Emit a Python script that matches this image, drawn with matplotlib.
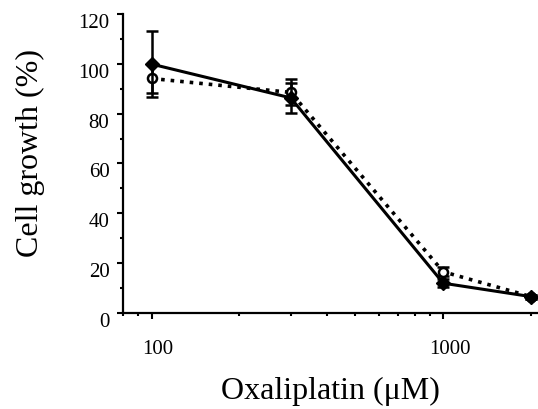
import matplotlib
matplotlib.use("Agg")
import matplotlib.pyplot as plt
import matplotlib.transforms as mtransforms
from matplotlib.ticker import LogLocator, FixedLocator, NullFormatter, FixedFormatter

conc = [100, 300, 1000, 2000]
solid_vals = [100.0, 86.4, 11.8, 6.4]
solid_err = [13.4, 6.1, 1.5, 0.8]
dotted_vals = [94.2, 88.6, 16.4, 6.4]
dotted_err = [5.8, 5.2, 1.8, 0.8]

yticks = [0, 20, 40, 60, 80, 100, 120]
xtick_vals = [100, 1000]
xtick_labels = ["100", "1000"]

plt.rcParams['font.family'] = ['Liberation Serif', 'DejaVu Serif']

fig = plt.figure(figsize=(5.38, 4.09), dpi=100)
ax = fig.add_axes([0.2292, 0.2359, 0.7708, 0.7289])

ax.errorbar(conc, dotted_vals, yerr=dotted_err, color='black', lw=2.6, ls=':',
            marker='o', ms=6.5, mfc='white', mec='black', mew=1.8,
            capsize=4.5, elinewidth=1.8, capthick=1.8, clip_on=False, zorder=3)
ax.errorbar(conc, solid_vals, yerr=solid_err, color='black', lw=2.2, ls='-',
            marker='D', ms=7, mfc='black', mec='black',
            capsize=4.5, elinewidth=1.8, capthick=1.8, clip_on=False, zorder=4)

ax.set_xscale('log')
ax.set_xlim(80, 2113)
ax.set_ylim(0, 120)

ax.xaxis.set_major_locator(FixedLocator(xtick_vals))
ax.xaxis.set_major_formatter(FixedFormatter(xtick_labels))
ax.xaxis.set_minor_locator(LogLocator(base=10, subs=range(2, 10)))
ax.xaxis.set_minor_formatter(NullFormatter())

ax.set_yticks(yticks)
ax.set_yticks(range(10, 120, 20), minor=True)

for s in ['top', 'right']:
    ax.spines[s].set_visible(False)
for s in ['left', 'bottom']:
    ax.spines[s].set_linewidth(1.6)

ax.tick_params(axis='both', which='major', direction='out', length=4, width=1.5, labelsize=15)
ax.tick_params(axis='both', which='minor', direction='out', length=2.5, width=1.5)
ax.tick_params(axis='x', which='major', pad=16)
ax.tick_params(axis='y', which='major', pad=6)

dx = mtransforms.ScaledTranslation(6.5/100, 0, fig.dpi_scale_trans)
for lab in ax.get_xticklabels():
    lab.set_transform(lab.get_transform() + dx)
dy = mtransforms.ScaledTranslation(0, -7/100, fig.dpi_scale_trans)
for lab in ax.get_yticklabels():
    lab.set_transform(lab.get_transform() + dy)

ax.set_xlabel("Oxaliplatin (μM)", fontsize=23, labelpad=13)
ax.set_ylabel("Cell growth (%)", fontsize=23)
ax.yaxis.set_label_coords(-0.19, 0.535)

fig.savefig("out.png", dpi=100)
